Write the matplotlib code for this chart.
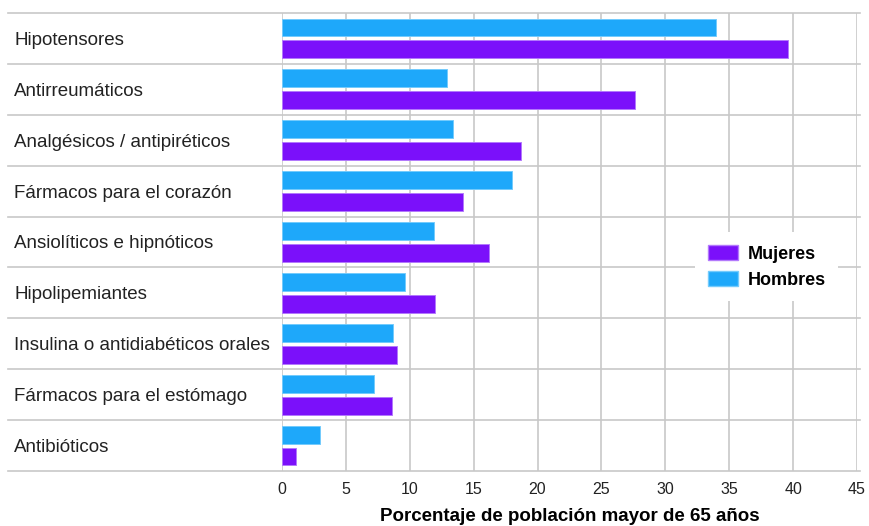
import matplotlib
matplotlib.use('Agg')

import matplotlib.pyplot as plt
from matplotlib.patches import Patch
import numpy as np

plt.rcParams['font.family'] = ['Liberation Sans', 'DejaVu Sans']

categorias = ['Hipotensores', 'Antirreumáticos', 'Analgésicos / antipiréticos',
              'Fármacos para el corazón', 'Ansiolíticos e hipnóticos', 'Hipolipemiantes',
              'Insulina o antidiabéticos orales', 'Fármacos para el estómago', 'Antibióticos']
hombres = [34.0, 12.9, 13.4, 18.0, 11.9, 9.6, 8.7, 7.2, 3.0]
mujeres = [39.6, 27.6, 18.7, 14.2, 16.2, 12.0, 9.0, 8.6, 1.1]
xticks = [0, 5, 10, 15, 20, 25, 30, 35, 40, 45]

c_h = '#1ea8fa'
c_m = '#7b10fa'
grid = '#c8c8c8'

fig = plt.figure(figsize=(8.69, 5.26), dpi=100)
ax = fig.add_axes([282/869, 1 - 471/526, 575/869, 458/526])

y = np.arange(len(categorias))
h = 0.35
ax.barh(y - 0.215, hombres, height=h, color=c_h, edgecolor='#74cbfc', linewidth=0.7, zorder=3)
ax.barh(y + 0.215, mujeres, height=h, color=c_m, edgecolor='#b379fc', linewidth=0.7, zorder=3)

ax.set_xlim(0, 45)
ax.set_ylim(len(categorias) - 0.5, -0.5)

# vertical grid and borders
for xv in xticks:
    ax.axvline(xv, color=grid, lw=1.2, zorder=1)

# row separators run under the labels as well
for yv in np.arange(-0.5, len(categorias), 1.0):
    ax.axhline(yv, xmin=(8 - 282) / 575, xmax=(860 - 282) / 575, color=grid, lw=1.2,
               clip_on=False, zorder=1)

for s in ax.spines.values():
    s.set_visible(False)

ax.set_xticks(xticks)
ax.set_xticklabels([str(t) for t in xticks], fontsize=11.5, color='#222222')
ax.set_yticks(y)
ax.set_yticklabels(categorias, fontsize=13.5, ha='left', color='#222222')
ax.tick_params(axis='y', length=0, pad=268 * 0.72)
ax.tick_params(axis='x', length=0, pad=8)

ax.set_xlabel('Porcentaje de población mayor de 65 años', fontsize=13.5,
              fontweight='bold', labelpad=8)

handles = [Patch(facecolor=c_m, edgecolor='#b379fc', label='Mujeres'),
           Patch(facecolor=c_h, edgecolor='#74cbfc', label='Hombres')]
leg = ax.legend(handles=handles, loc='upper left', bbox_to_anchor=((695 - 282) / 575, (471 - 232) / 458),
                borderaxespad=0, frameon=True, fancybox=False, facecolor='white',
                edgecolor='none', framealpha=1, prop={'weight': 'bold', 'size': 13},
                handlelength=1.7, handleheight=0.95, handletextpad=0.5, labelspacing=0.45,
                borderpad=0.7)
leg.set_zorder(5)

fig.savefig('out.png', dpi=100, facecolor='white')
